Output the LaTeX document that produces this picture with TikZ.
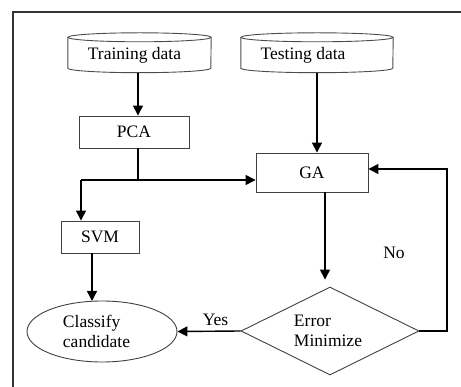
\documentclass[tikz,border=0pt]{standalone}
\usepackage{fontspec}
\setmainfont{Liberation Serif}
\usetikzlibrary{shapes.geometric,arrows.meta}
\begin{document}
\begin{tikzpicture}[x=1pt,y=-1pt,
  txt/.style={font=\fontsize{17.5}{19.5}\selectfont, text=black},
  boxnode/.style={txt, draw=black!75, line width=0.9pt, inner sep=0pt},
  plainnode/.style={txt, inner sep=0pt},
  arr/.style={line width=1.4pt, -{Triangle[length=10pt,width=10pt]}},
  ln/.style={line width=1.4pt},
  shapeline/.style={draw=black!70, line width=0.9pt}]
\useasboundingbox (0,0) rectangle (461,387);
% frame
\draw[line width=1.3pt, black!80] (13,387) -- (13,12) -- (461,12);
% cylinders
\node[plainnode, minimum width=143pt, minimum height=35pt] (train) at (139.5,55) {Training data\kern10pt};
\node[plainnode, minimum width=152pt, minimum height=35pt] (test) at (317,55) {Testing data\kern28pt};
\foreach \c/\rx in {train/71.5, test/76} {
  \draw[shapeline] (\c.north) ellipse [x radius=\rx pt, y radius=4.5pt];
  \draw[shapeline] (\c.north west) -- ([yshift=4.5pt]\c.south west)
     arc[start angle=180, end angle=360, x radius=\rx pt, y radius=4.5pt]
     -- (\c.north east);
}
% boxes
\node[boxnode, minimum width=110pt, minimum height=32pt] (pca) at (134,132) {PCA};
\node[boxnode, minimum width=112pt, minimum height=39pt] (ga) at (312,172.5) {GA};
\node[boxnode, minimum width=78pt, minimum height=32pt] (svm) at (100,237) {SVM};
\node[boxnode, ellipse, minimum width=150pt, minimum height=61pt, align=left] (cls) at (102,331.5) {Classify\\candidate\kern11pt};
\node[boxnode, diamond, aspect=2.02, minimum width=178pt, minimum height=88pt, align=left] (dia) at (330,331) {Error\\Minimize\kern4pt};
% labels
\node[plainnode] (yes) at (215.5,320) {Yes};
\node[plainnode] (no) at (394,253) {No};
% connectors
\coordinate (j) at (138,180);
\coordinate (k) at (81,180);
\coordinate (fb) at (447,169);
\draw[arr] (train.south -| j) -- (j |- pca.north);
\draw[arr] (test.south) -- (test.south |- ga.north);
\draw[ln] (pca.south -| j) -- (j);
\draw[arr] (k) -- (k -| ga.west);
\draw[arr] (k) -- (k |- svm.north);
\draw[arr] (svm.south -| 92,0) -- (92,301);
\draw[arr] (ga.south -| 325,0) -- ([yshift=7pt]dia.north -| 325,0);
\draw[arr] (dia.west) -- (cls.east);
\draw[ln, -{Triangle[length=10pt,width=10pt]}] (dia.east) -| (fb) -- (fb -| ga.east);
\end{tikzpicture}
\end{document}
